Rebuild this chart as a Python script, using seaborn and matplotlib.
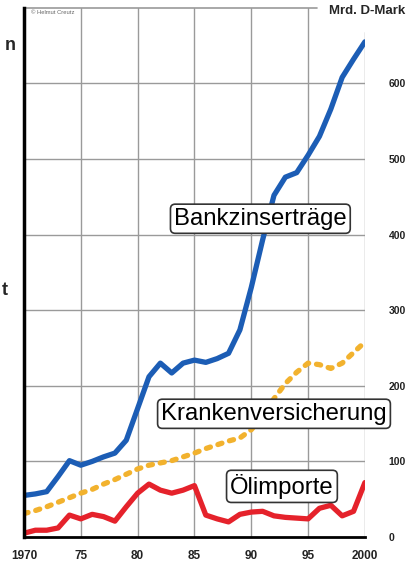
import pandas as pd
import seaborn as sns
import matplotlib.pyplot as plt

years = list(range(1970, 2001))
bankzins = [55, 57, 60, 80, 101, 95, 100, 106, 111, 128, 170, 212, 230, 217, 230, 234,
            231, 236, 243, 274, 330, 393, 452, 476, 482, 505, 530, 566, 608, 632, 655]
kranken = [31, 35, 40, 46, 52, 58, 63, 70, 76, 83, 90, 95, 98, 101, 106, 111,
           117, 122, 127, 131, 142, 160, 183, 203, 218, 230, 228, 223, 230, 244, 258]
oel = [5, 9, 9, 12, 29, 24, 30, 27, 21, 40, 58, 70, 62, 58, 62, 68,
       29, 24, 20, 30, 33, 34, 28, 26, 25, 24, 38, 42, 28, 34, 72]

xticks = [1970, 1975, 1980, 1985, 1990, 1995, 2000]
xlabels = ['1970', '75', '80', '85', '90', '95', '2000']
yticks = [0, 100, 200, 300, 400, 500, 600]

df = pd.DataFrame({'Jahr': years, 'Bank': bankzins, 'Kranken': kranken, 'Oel': oel})

sns.set_style("white")
plt.rcParams['font.family'] = ['Liberation Sans', 'DejaVu Sans']

fig = plt.figure(figsize=(4.10, 5.66), dpi=100)
ax = fig.add_axes([0.0585, 0.0512, 0.8315, 0.935])

# grid
for x in xticks[1:]:
    ax.axvline(x, color='#9a9a9a', lw=1.0, zorder=0, ymax=0.955 if x == 2000 else 1)
for y in yticks[1:]:
    ax.axhline(y, color='#9a9a9a', lw=1.0, zorder=0)
ax.axhline(700, color='#9a9a9a', lw=1.2, xmax=0.86, zorder=0, clip_on=False)

sns.lineplot(data=df, x='Jahr', y='Bank', ax=ax, color='#1c5db5', lw=3.8,
             solid_capstyle='round', solid_joinstyle='round')
sns.lineplot(data=df, x='Jahr', y='Kranken', ax=ax, color='#f2b22e', lw=3.8,
             dash_capstyle='round', linestyle=(0, (0.8, 1.5)))
sns.lineplot(data=df, x='Jahr', y='Oel', ax=ax, color='#e5222b', lw=3.8,
             solid_capstyle='round', solid_joinstyle='round')

ax.set_xlim(1970, 2000)
ax.set_ylim(0, 700)
for s in ['top', 'right']:
    ax.spines[s].set_visible(False)
ax.spines['left'].set_color('black')
ax.spines['left'].set_linewidth(2.5)
ax.spines['bottom'].set_color('black')
ax.spines['bottom'].set_linewidth(2.0)

ax.yaxis.tick_right()
ax.set_yticks(yticks)
ax.set_yticklabels([str(v) for v in yticks], fontsize=7.5, fontweight='bold', color='#222222')
ax.set_xticks(xticks)
ax.set_xticklabels(xlabels, fontsize=8.5, fontweight='bold', color='#222222')
ax.tick_params(axis='y', length=0, pad=17)
ax.tick_params(axis='x', length=0, pad=9)
ax.set_xlabel('')
ax.set_ylabel('')

box = dict(boxstyle='round,pad=0.15,rounding_size=0.2', fc='white', ec='#333333', lw=1.2)
ax.text(1990.8, 421, 'Bankzinserträge', fontsize=17.2, color='black', ha='center',
        va='center', bbox=box, clip_on=False, zorder=5)
ax.text(1992.0, 163, 'Krankenversicherung', fontsize=17.2, color='black', ha='center',
        va='center', bbox=box, clip_on=False, zorder=5)
ax.text(1992.7, 67, 'Ölimporte', fontsize=17.2, color='black', ha='center',
        va='center', bbox=box, clip_on=False, zorder=5)

fig.text(0.988, 0.981, 'Mrd. D-Mark', fontsize=9.5, fontweight='bold', ha='right', va='center')
fig.text(0.075, 0.978, '© Helmut Creutz', fontsize=4.2, color='#666666', ha='left', va='center')
fig.text(0.012, 0.92, 'n', fontsize=13, fontweight='bold', ha='left', va='center')
fig.text(0.005, 0.487, 't', fontsize=13, fontweight='bold', ha='left', va='center')

fig.savefig('out.png', dpi=100)
